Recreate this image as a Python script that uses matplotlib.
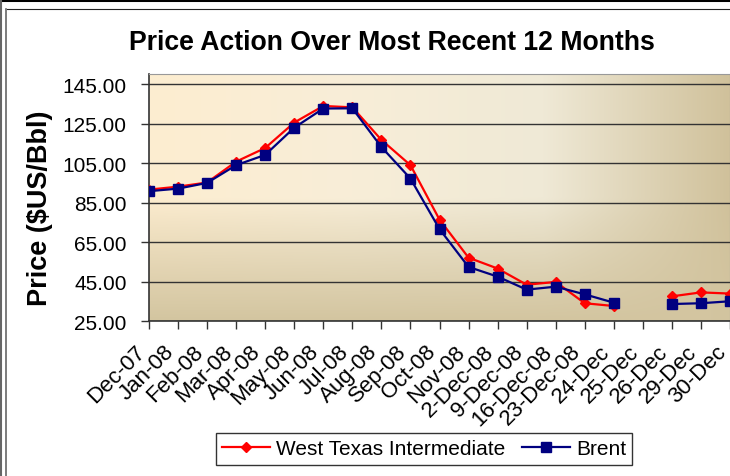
import matplotlib.pyplot as plt
import matplotlib.transforms as mtransforms
from matplotlib.lines import Line2D
from matplotlib.colors import to_rgb
import numpy as np

plt.rcParams["font.family"] = ["Liberation Sans", "DejaVu Sans"]

# Data
labels = ["Dec-07", "Jan-08", "Feb-08", "Mar-08", "Apr-08", "May-08", "Jun-08",
          "Jul-08", "Aug-08", "Sep-08", "Oct-08", "Nov-08", "2-Dec-08", "9-Dec-08",
          "16-Dec-08", "23-Dec-08", "24-Dec", "25-Dec", "26-Dec", "29-Dec", "30-Dec"]
wti = [91.6, 93.1, 95.2, 105.8, 112.7, 125.6, 134.0, 133.3, 116.8, 104.0, 76.4,
       57.1, 51.6, 43.4, 44.8, 34.0, 32.6, np.nan, 37.5, 39.5, 38.9]
brent = [90.8, 92.1, 95.0, 104.0, 109.2, 123.0, 132.7, 132.8, 113.2, 97.2, 71.6,
         52.4, 47.5, 40.9, 42.4, 38.5, 34.3, np.nan, 33.6, 34.0, 35.0]
yticks = [25, 45, 65, 85, 105, 125, 145]

W, H = 730, 477
fig = plt.figure(figsize=(W / 100, H / 100), dpi=100)

# Outer frame lines (pixel coords)
def px_line(x0, y0, x1, y1, color, lw):
    fig.add_artist(Line2D([x0 / W, x1 / W], [1 - y0 / H, 1 - y1 / H],
                          color=color, lw=lw, transform=fig.transFigure))

px_line(0, 1, W, 1, "black", 2.2)
px_line(1, 0, 1, H, "#666666", 1.5)
px_line(6, 10, 6, H, "#666666", 1.2)
px_line(7, 10, W, 10, "#222222", 0.8)

ax = fig.add_axes([149 / W, (H - 322) / H, (W - 149) / W, (322 - 75) / H])

# Gradient background of the plot area
nx, ny = 300, 200
xs = np.linspace(0, 1, nx)
stops = [0.0, 0.35, 0.68, 1.0]
cols = [to_rgb("#fdedd0"), to_rgb("#f8eed8"), to_rgb("#efe9d6"), to_rgb("#d0c19b")]
top = np.stack([np.interp(xs, stops, [c[i] for c in cols]) for i in range(3)], axis=1)
bottom = np.array(to_rgb("#d3c5a0"))
ys = np.linspace(0, 1, ny)
v = np.clip((ys - 0.5) / 0.5, 0, 1) ** 0.9
img = top[None, :, :] * (1 - v[:, None, None]) + bottom[None, None, :] * v[:, None, None]
ax.imshow(img, extent=[0, 1, 0, 1], transform=ax.transAxes, aspect="auto", zorder=0)

x = np.arange(len(labels))
ax.plot(x, wti, color="#ff0000", lw=1.6, marker="D", markersize=5.5,
        label="West Texas Intermediate", zorder=3)
ax.plot(x, brent, color="#000080", lw=1.6, marker="s", markersize=7.5,
        label="Brent", zorder=4)

ax.set_xlim(0, len(labels) - 1)
ax.set_ylim(25, 150.2)
ax.set_yticks(yticks)
ax.set_yticklabels([f"{t:.2f}" for t in yticks], fontsize=15)
ax.grid(axis="y", color="#333333", lw=1, zorder=1)
ax.set_axisbelow(False)

# Category labels, drawn as rotated texts hanging below each tick
ax.set_xticks(x)
ax.set_xticklabels([])
label_tr = mtransforms.blended_transform_factory(ax.transData, ax.transAxes) + \
    mtransforms.ScaledTranslation(-7 / 100, -27 / 100, fig.dpi_scale_trans)
for i, lab in enumerate(labels):
    ax.text(x[i], 0, lab, transform=label_tr, fontsize=16, rotation=45,
            ha="right", va="center", rotation_mode="anchor", clip_on=False)

ax.tick_params(axis="both", direction="out", length=6, width=1, color="#333333")
ax.tick_params(axis="y", pad=10)
for side in ["top", "right"]:
    ax.spines[side].set_color("#999999")
for side in ["left", "bottom"]:
    ax.spines[side].set_color("#333333")
    ax.spines[side].set_linewidth(1.2)

ax.set_ylabel("Price ($US/Bbl)", fontsize=19.5, fontweight="bold")
ax.yaxis.set_label_coords((53 - 149) / 581, (322 - 208) / 247)
fig.text(392 / W, 1 - 43 / H, "Price Action Over Most Recent 12 Months",
         fontsize=19.2, fontweight="bold", ha="center", va="center")

leg = fig.legend(loc="center", bbox_to_anchor=(424 / W, 1 - 450 / H), ncol=2,
                 fontsize=15, frameon=True, fancybox=False, numpoints=1,
                 handlelength=2.3, handletextpad=0.3, columnspacing=0.8,
                 borderpad=0.3)
leg.get_frame().set_edgecolor("black")
leg.get_frame().set_linewidth(1)

fig.savefig("out.png", dpi=100)
